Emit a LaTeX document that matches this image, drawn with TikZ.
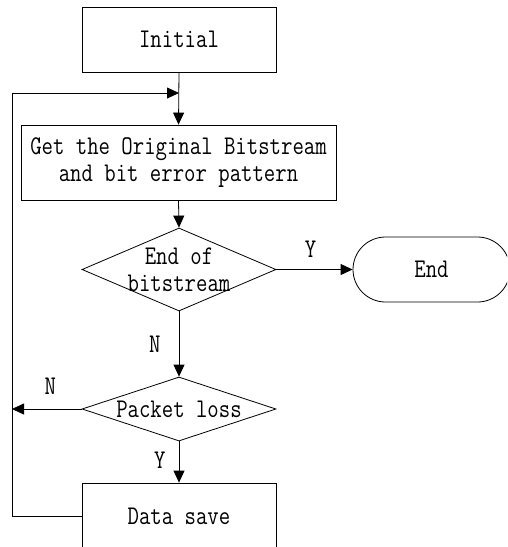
\documentclass[tikz,border=0pt]{standalone}
\usepackage{fontspec}
\setmonofont{Latin Modern Mono}[FakeStretch=0.82]
\usetikzlibrary{shapes.geometric,shapes.misc,arrows.meta}
\tikzset{
  flow/.style={line width=0.8pt,-{Triangle[length=12pt,width=11pt]}},
  proc/.style={draw,line width=0.8pt,rectangle,inner sep=0pt},
  dec/.style={draw,line width=0.8pt,diamond,inner sep=0pt,minimum width=194pt},
  term/.style={draw,line width=0.8pt,rounded rectangle,inner sep=0pt,minimum width=157pt,minimum height=65pt},
  txt/.style={font=\ttfamily\fontsize{27}{26.5}\selectfont,align=center,inner sep=0pt},
  yn/.style={font=\ttfamily\fontsize{27}{26}\selectfont,inner sep=0pt}
}
\begin{document}
\begin{tikzpicture}[x=1pt,y=-1pt]
\useasboundingbox (0,0) rectangle (507,547);
\clip (0,0) rectangle (507,547);
% process boxes
\node[proc,minimum width=194pt,minimum height=65pt] (init) at (179,39.5) {};
\node[txt] at (init) {Initial};
\node[proc,minimum width=315pt,minimum height=75pt] (get) at (178.5,162.5) {};
\node[txt] at (get) {Get the Original Bitstream\\and bit error pattern};
% decisions
\node[dec,minimum height=83pt] (d1) at (179,269.5) {};
\node[txt] at (d1) {End of\\bitstream};
\node[dec,minimum height=64pt] (d2) at (179,409) {};
\node[txt] at (d2) {Packet loss};
% terminal
\node[term] (end) at (431.5,269.5) {};
\node[txt] at (end) {End};
% last box
\node[proc,minimum width=194pt,minimum height=66pt] (save) at (179,516) {};
\node[txt] at (save) {Data save};
% loop-back corner points
\coordinate (join) at (179,93);
\coordinate (lx) at (12,93);
\coordinate (lout) at (12,409);
% connectors
\draw[flow] (init.south) -- (get.north);
\draw[flow] (get.south) -- (d1.north);
\draw[flow] (d1.east) -- (end.west) node[yn,pos=0.45,above=12pt] {Y};
\draw[flow] (d1.south) -- (d2.north) node[yn,pos=0.5,left=18pt] {N};
\draw[flow] (d2.west) -- (lout) node[yn,pos=0.45,above=14pt] {N};
\draw[flow] (d2.south) -- (save.north) node[yn,pos=0.45,left=13pt] {Y};
\draw[flow] (save.west) -| (lx) -- (join);
\end{tikzpicture}
\end{document}
